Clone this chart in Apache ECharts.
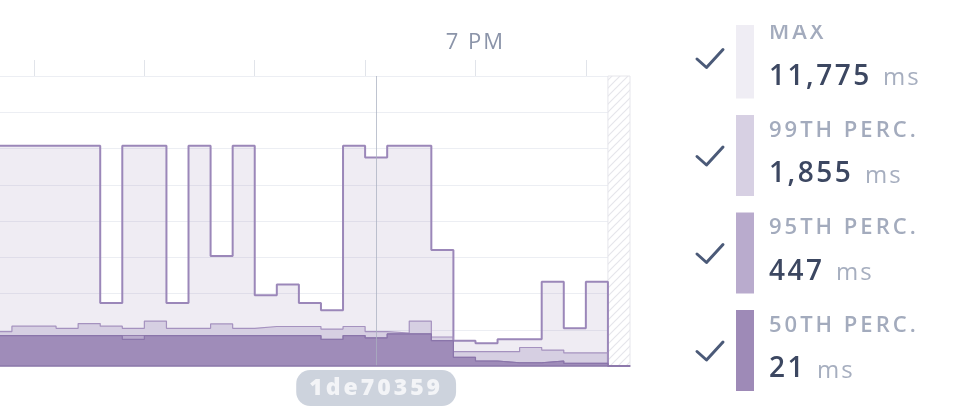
<!DOCTYPE html>
<html>
<head>
<meta charset="utf-8">
<script src="https://cdn.jsdelivr.net/npm/echarts@6/dist/echarts.min.js"></script>
<style>
html,body{margin:0;padding:0;background:#fff;}
#chart{width:955px;height:414px;}
</style>
</head>
<body>
<div id="chart"></div>
<script>
// ---------------- data ----------------
const binStartMinute = 1096;   // 18:16, minutes of day (first bucket, partly off-screen)
const viewStartMinute = 1096.92; // left edge of the visible plot
const binMinutes = 2;
const axisEndMinute = 1154;    // 19:14
// one value per 2-minute bucket (ms); last bucket is the incomplete one
const maxValues = [12150,12150,12150,12150,12150,3480,12150,12150,3480,12150,6070,12150,3900,4490,3480,3070,12150,11500,12150,12150,6400,1400,1250,1470,1470,4650,2080,4650,0];
const p99Values = [1900,2200,2200,2080,2340,2200,2080,2480,2080,2080,2320,2080,2180,2180,2180,2040,2180,1900,1820,2480,1600,790,790,790,1020,880,720,720,0];
const p95Values = [1680,1680,1680,1680,1680,1680,1680,1680,1680,1680,1680,1680,1680,1680,1680,1470,1680,1550,1770,1770,1400,480,275,180,180,275,150,150,0];
const p50Values = [1680,1680,1680,1680,1680,1680,1470,1680,1680,1680,1680,1680,1680,1680,1680,1470,1680,1550,1770,1770,1400,480,275,180,180,275,150,150,0];
const tickMinutes = [1100,1110,1120,1130,1140,1150];
const tickLabelText = {1140: '7 PM'};
const cursorMinute = 1131;
const cursorLabel = '1de70359';
const legendNames = ['MAX','99TH PERC.','95TH PERC.','50TH PERC.'];
const legendValues = ['11,775','1,855','447','21'];
const unitLabel = 'ms';

// ---------------- letter spacing for tracked text ----------------
const spacing = {'7 PM':'2px', 'ms':'2px'};
legendNames.forEach(n => spacing[n] = '3px');
legendValues.forEach(v => spacing[v] = '2.5px');
const origFill = CanvasRenderingContext2D.prototype.fillText;
CanvasRenderingContext2D.prototype.fillText = function (t, x, y, w) {
  const ls = spacing[t];
  if (ls && 'letterSpacing' in this) {
    const prev = this.letterSpacing;
    this.letterSpacing = ls;
    const r = w === undefined ? origFill.call(this, t, x, y) : origFill.call(this, t, x, y, w);
    this.letterSpacing = prev;
    return r;
  }
  return w === undefined ? origFill.call(this, t, x, y) : origFill.call(this, t, x, y, w);
};

// ---------------- helpers ----------------
function toSeries(values) {
  const pts = values.map((v, i) => [binStartMinute + i * binMinutes, v]);
  pts.push([axisEndMinute, values[values.length - 1]]);
  return pts;
}
const incompleteStart = binStartMinute + (maxValues.length - 1) * binMinutes;

const pat = document.createElement('canvas');
pat.width = 8; pat.height = 8;
(function () {
  const c = pat.getContext('2d');
  c.fillStyle = '#ffffff'; c.fillRect(0, 0, 8, 8);
  c.strokeStyle = '#e6e6eb'; c.lineWidth = 1.2;
  c.beginPath();
  c.moveTo(0, 8); c.lineTo(8, 0);
  c.moveTo(-4, 4); c.lineTo(4, -4);
  c.moveTo(4, 12); c.lineTo(12, 4);
  c.stroke();
})();

const fills = ['rgba(158,138,183,0.16)', '#d6cfe2', '#b9abcd', '#9f8cb9'];
const lines = ['#9b87b9', '#a592bf', '#8f7aae', '#8a75aa'];
const lineWidths = [2, 1.2, 1, 1.2];
const swatches = ['#efedf4', '#d7d0e3', '#b9abcd', '#9e8ab7'];
const allValues = [maxValues, p99Values, p95Values, p50Values];

const series = allValues.map((vals, i) => {
  const s = {
    name: legendNames[i],
    type: 'line',
    step: 'end',
    symbol: 'none',
    data: toSeries(vals),
    lineStyle: {color: lines[i], width: lineWidths[i]},
    areaStyle: {color: fills[i], opacity: 1},
    silent: true,
    animation: false
  };
  if (i === 0) {
    s.markArea = {
      silent: true,
      animation: false,
      itemStyle: {color: {image: pat, repeat: 'repeat'}, borderColor: '#e6e6eb', borderWidth: 1},
      data: [[{xAxis: incompleteStart}, {xAxis: axisEndMinute}]]
    };
  }
  if (i === 3) {
    s.markLine = {
      silent: true,
      animation: false,
      symbol: ['none', 'none'],
      lineStyle: {color: '#aab0c0', width: 1, type: 'solid', opacity: 0.75},
      label: {
        show: true, position: 'start', formatter: cursorLabel, distance: 4,
        color: '#ffffff', fontFamily: 'Open Sans', fontWeight: 800, fontSize: 23,
        lineHeight: 26, backgroundColor: '#bcc4d2', borderRadius: 14, padding: [5, 25, 5, 25]
      },
      data: [{xAxis: cursorMinute}]
    };
  }
  return s;
});

// tick marks above the plot, drawn in a thin strip grid
series.push({
  type: 'line', xAxisIndex: 2, yAxisIndex: 1, data: [], symbol: 'none', silent: true, animation: false,
  markLine: {
    silent: true, animation: false, symbol: ['none', 'none'], label: {show: false},
    lineStyle: {color: '#e1e4ea', width: 1, type: 'solid'},
    data: tickMinutes.map(v => ({xAxis: v}))
  }
});

// ---------------- legend graphics ----------------
const graphic = [];
const period = 97.5;
legendNames.forEach((name, i) => {
  const top = 17.5 + period * i;
  const cy = top + 40.5;
  graphic.push({type: 'polyline', silent: true,
    shape: {points: [[697, cy + 1], [706.5, cy + 9.5], [723, cy - 8.5]]},
    style: {stroke: '#4b5a78', lineWidth: 3, fill: null, lineCap: 'round', lineJoin: 'round'}});
  graphic.push({type: 'rect', silent: true, shape: {x: 736, y: top, width: 18, height: 81},
    style: {fill: swatches[i]}});
  graphic.push({type: 'text', silent: true,
    style: {x: 769, y: top + 15.5, text: name, font: '600 22px "Open Sans"', fill: '#a3abbd',
      align: 'left', verticalAlign: 'middle', textAlign: 'left', textVerticalAlign: 'middle'}});
  graphic.push({type: 'text', silent: true,
    style: {x: 769, y: top + 59.5, text: legendValues[i], font: '600 28px "Open Sans"', fill: '#3c4761',
      align: 'left', verticalAlign: 'middle', textAlign: 'left', textVerticalAlign: 'middle'}});
});
const unitX = [883, 865, 836, 817];
legendNames.forEach((name, i) => {
  const top = 17.5 + period * i;
  graphic.push({type: 'text', silent: true,
    style: {x: unitX[i], y: top + 61, text: unitLabel, font: '24px "Open Sans"', fill: '#a6aebf',
      align: 'left', verticalAlign: 'middle', textAlign: 'left', textVerticalAlign: 'middle'}});
});
graphic.push({type: 'rect', silent: true, z: 100, shape: {x: 680, y: 0, width: 275, height: 25},
  style: {fill: '#ffffff'}});

// ---------------- chart ----------------
const chart = echarts.init(document.getElementById('chart'), null, {renderer: 'canvas'});
chart.setOption({
  animation: false,
  backgroundColor: '#ffffff',
  grid: [
    {left: 0, right: 325, top: 76, bottom: 48, containLabel: false},
    {left: 0, right: 325, top: 60, height: 16, containLabel: false}
  ],
  xAxis: [{
    type: 'value', position: 'top', min: viewStartMinute, max: axisEndMinute,
    axisLine: {show: true, lineStyle: {color: '#eceef3', width: 1}}, splitLine: {show: false},
    axisTick: {show: false},
    axisLabel: {show: true, customValues: [1140], formatter: v => tickLabelText[v] || '',
      color: '#8b94a9', fontSize: 22, fontFamily: 'Open Sans', margin: 22}
  }, {
    type: 'value', position: 'bottom', min: viewStartMinute, max: axisEndMinute, z: 5,
    axisLine: {show: true, lineStyle: {color: '#8c78ab', width: 1.5}},
    axisTick: {show: false}, axisLabel: {show: false}, splitLine: {show: false}
  }, {
    type: 'value', gridIndex: 1, min: viewStartMinute, max: axisEndMinute, show: false
  }],
  yAxis: [{
    type: 'value', min: 0, max: 16000, interval: 2000,
    axisLine: {show: false}, axisTick: {show: false}, axisLabel: {show: false},
    splitLine: {lineStyle: {color: '#eceef3', width: 1}}
  }, {
    type: 'value', gridIndex: 1, min: 0, max: 1, show: false
  }],
  graphic: graphic,
  series: series
});
</script>
</body>
</html>
